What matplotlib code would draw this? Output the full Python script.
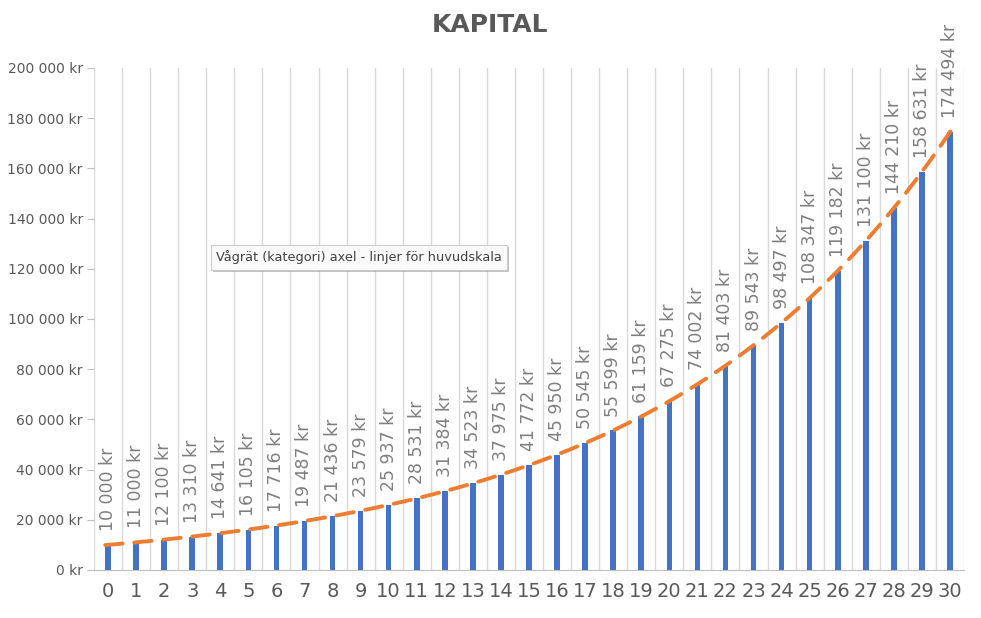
import numpy as np
import matplotlib.pyplot as plt
from matplotlib.ticker import FuncFormatter
import matplotlib.patheffects as pe

# data
ar = list(range(31))
kapital = [10000, 11000, 12100, 13310, 14641, 16105, 17716, 19487, 21436, 23579,
           25937, 28531, 31384, 34523, 37975, 41772, 45950, 50545, 55599, 61159,
           67275, 74002, 81403, 89543, 98497, 108347, 119182, 131100, 144210,
           158631, 174494]


def kr(v, pos=None):
    return "{:,.0f} kr".format(v).replace(",", " ")


fig = plt.figure(figsize=(9.81, 6.18), dpi=100)
ax = fig.add_axes([0.0958, 0.0777, 0.8869, 0.8123])

x = np.array(ar)
y = np.array(kapital, dtype=float)

ax.bar(x, y, width=0.2, color='#4472C4', zorder=3)

# exponentiell trendlinje
k, m = np.polyfit(x, np.log(y), 1)
xt = np.linspace(-0.1, 30.1, 300)
ax.plot(xt, np.exp(m + k * xt), color='#ED7D31', lw=2.8, ls=(0, (4.5, 3)),
        zorder=4, dash_capstyle='round')

for xi, yi in zip(x, y):
    ax.annotate(kr(yi), (xi, yi), xytext=(0, 10), textcoords='offset points',
                rotation=90, ha='center', va='bottom', fontsize=12.5,
                color='#7F7F7F', zorder=5)

ax.set_xlim(-0.5, 30.5)
ax.set_ylim(0, 200000)
ax.set_yticks(np.arange(0, 200001, 20000))
ax.yaxis.set_major_formatter(FuncFormatter(kr))
ax.set_xticks(x)
ax.set_xticklabels([str(a) for a in ar])

# vertikala stödlinjer mellan kategorierna
for g in np.arange(-0.5, 31, 1):
    ax.axvline(g, color='#D9D9D9', lw=1, zorder=1)

for s in ['top', 'right', 'left']:
    ax.spines[s].set_visible(False)
ax.spines['bottom'].set_color('#BFBFBF')
ax.tick_params(axis='y', length=5, color='#BFBFBF', labelsize=10,
               labelcolor='#595959', pad=3)
ax.tick_params(axis='x', length=0, labelsize=14, labelcolor='#595959', pad=9)

fig.text(0.5, 0.96, 'KAPITAL', ha='center', va='center', fontsize=18,
         fontweight='bold', color='#595959')

# tooltip
tip = ax.text(3.85, 124500, 'Vågrät (kategori) axel - linjer för huvudskala',
              fontsize=9.3, color='#404040', va='center', ha='left', zorder=6,
              bbox=dict(boxstyle='square,pad=0.4', fc='#FAFAFA', ec='#CCCCCC', lw=0.8))
tip.get_bbox_patch().set_path_effects([pe.SimplePatchShadow(offset=(1.5, -1.5),
                                                            shadow_rgbFace='#999999',
                                                            alpha=0.6),
                                       pe.Normal()])

fig.savefig('out.png', dpi=100)
